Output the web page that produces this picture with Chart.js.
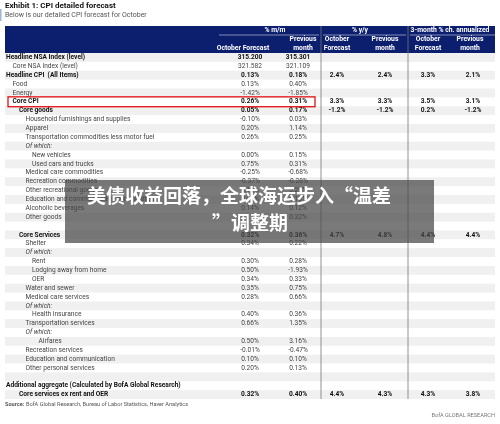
<!DOCTYPE html>
<html>
<head>
<meta charset="utf-8">
<script src="https://cdn.jsdelivr.net/npm/chart.js@4"></script>
<style>
  html, body { margin: 0; padding: 0; background: #fff; }
  #wrap { width: 500px; height: 424px; position: relative; }
</style>
</head>
<body>
<div id="wrap"><canvas id="cpi"></canvas></div>
<script>
// Table rows (top to bottom)
const rowLabels = [
  'Headline NSA Index (level)', 'Core NSA Index (level)', 'Headline CPI  (All Items)', 'Food', 'Energy',
  'Core CPI', 'Core goods', 'Household furnishings and supplies', 'Apparel', 'Transportation commodities less motor fuel',
  'Of which:', 'New vehicles', 'Used cars and trucks', 'Medical care commodities', 'Recreation commodities',
  'Other recreational goods', 'Education and communication commodities', 'Alcoholic beverages', 'Other goods', '',
  'Core Services', 'Shelter', 'Of which:', 'Rent', 'Lodging away from home',
  'OER', 'Water and sewer', 'Medical care services', 'Of which:', 'Health insurance',
  'Transportation services', 'Of which:', 'Airfares', 'Recreation services', 'Education and communication',
  'Other personal services', '', 'Additional aggregate (Calculated by BofA Global Research)', 'Core services ex rent and OER'
];
const rowIndent = [0,1,0,1,1, 1,2,3,3,3, 3,4,4,3,3, 3,3,3,3,0, 2,3,3,4,4, 4,3,3,3,4, 3,3,5,3,3, 3,0,0,2];
const rowBold =   [1,0,1,0,0, 1,1,0,0,0, 0,0,0,0,0, 0,0,0,0,0, 1,0,0,0,0, 0,0,0,0,0, 0,0,0,0,0, 0,0,1,1];
const mmOct  = ['315.200','321.582','0.13%','0.13%','-1.42%','0.26%','0.05%','-0.10%','0.20%','0.26%','','0.00%','0.75%','-0.25%','-0.37%','0.10%','0.05%','0.14%','0.17%','','0.32%','0.34%','','0.30%','0.50%','0.34%','0.35%','0.28%','','0.40%','0.66%','','0.50%','-0.01%','0.10%','0.20%','','','0.32%'];
const mmPrev = ['315.301','321.109','0.18%','0.40%','-1.85%','0.31%','0.17%','0.03%','1.14%','0.25%','','0.15%','0.31%','-0.68%','-0.28%','0.20%','0.10%','0.12%','0.32%','','0.36%','0.22%','','0.28%','-1.93%','0.33%','0.75%','0.66%','','0.36%','1.35%','','3.16%','-0.47%','0.10%','0.13%','','','0.40%'];
const yyOct  = {2:'2.4%', 5:'3.3%', 6:'-1.2%', 20:'4.7%', 38:'4.4%'};
const yyPrev = {2:'2.4%', 5:'3.3%', 6:'-1.2%', 20:'4.8%', 38:'4.3%'};
const m3Oct  = {2:'3.3%', 5:'3.5%', 6:'0.2%', 20:'4.4%', 38:'4.3%'};
const m3Prev = {2:'2.1%', 5:'3.1%', 6:'-1.2%', 20:'4.4%', 38:'3.8%'};

const NAVY = '#0b1f6e';
const FONT = 'Roboto';

function font(size, bold, italic) {
  return (italic ? 'italic ' : '') + (bold ? 'bold ' : '') + size + 'px ' + FONT;
}

const tablePlugin = {
  id: 'cpiTable',
  afterDraw(chart) {
    const c = chart.ctx;
    const y = chart.scales.y, x = chart.scales.x;
    const ca = chart.chartArea;
    const rowH = y.getPixelForValue(1) - y.getPixelForValue(0);
    const px = v => x.getPixelForValue(v);
    c.save();

    // title
    c.fillStyle = '#111'; c.textAlign = 'left'; c.textBaseline = 'middle';
    c.font = font(8, true); c.fillText('Exhibit 1: CPI detailed forecast', 5, 6);
    c.fillStyle = '#555'; c.font = font(7, false); c.fillText('Below is our detailed CPI forecast for October', 5, 15.5);
    c.fillStyle = '#9db5d8'; c.fillRect(0, 9, 1.5, 12);

    // row shading
    rowLabels.forEach((l, i) => {
      if (i % 2 === 0) {
        c.fillStyle = '#f0f0f0';
        c.fillRect(ca.left, y.getPixelForValue(i) - rowH / 2, ca.width, rowH);
      }
    });

    // header band
    c.fillStyle = NAVY;
    c.fillRect(ca.left, 26, ca.width, ca.top - 26);
    c.fillStyle = '#fff'; c.textAlign = 'center';
    c.font = font(6.8, true);
    c.fillText('% m/m', px(270), 30.5);
    c.fillText('% y/y', px(355), 30.5);
    c.fillText('3-month % ch. annualized', px(445), 30.5);
    c.fillText('October Forecast', px(238), 48.5);
    [[298, 'Previous', 'month'], [332, 'October', 'Forecast'], [380, 'Previous', 'month'],
     [423, 'October', 'Forecast'], [465, 'Previous', 'month']].forEach(([v, a, b]) => {
      c.fillText(a, px(v), 39.5); c.fillText(b, px(v), 48.5);
    });

    // rows
    rowLabels.forEach((l, i) => {
      const yy = y.getPixelForValue(i);
      const b = rowBold[i] === 1;
      const it = l === 'Of which:';
      c.fillStyle = b ? '#111' : '#444';
      c.font = font(6.6, b, it);
      c.textAlign = 'left';
      c.fillText(l, ca.left + 1 + rowIndent[i] * 6.5, yy);
      c.textAlign = 'center';
      c.fillText(mmOct[i], px(245), yy);
      c.fillText(mmPrev[i], px(293), yy);
      if (yyOct[i]) {
        c.fillText(yyOct[i], px(332), yy);
        c.fillText(yyPrev[i], px(380), yy);
        c.fillText(m3Oct[i], px(423), yy);
        c.fillText(m3Prev[i], px(468), yy);
      }
    });

    // column dividers
    c.strokeStyle = '#777'; c.lineWidth = 0.8;
    [316, 403].forEach(v => {
      c.beginPath(); c.moveTo(px(v), 26); c.lineTo(px(v), ca.bottom); c.stroke();
    });
    c.strokeStyle = '#fff'; c.lineWidth = 0.5;
    c.beginPath(); c.moveTo(px(214), 35); c.lineTo(px(314), 35); c.stroke();
    c.beginPath(); c.moveTo(px(318), 35); c.lineTo(px(401), 35); c.stroke();
    c.beginPath(); c.moveTo(px(405), 35); c.lineTo(px(490), 35); c.stroke();

    // Core CPI highlight
    const yc = y.getPixelForValue(5);
    c.strokeStyle = '#e01010'; c.lineWidth = 1.3;
    c.strokeRect(8, yc - rowH / 2 - 0.5, px(310) - 8, rowH + 1);

    // footer
    c.textAlign = 'left'; c.fillStyle = '#555';
    c.font = font(5.6, true); c.fillText('Source:', 5, 405);
    c.font = font(5.6, false); c.fillText('BofA Global Research, Bureau of Labor Statistics, Haver Analytics', 26, 405);
    c.textAlign = 'right'; c.fillStyle = '#777';
    c.fillText('BofA GLOBAL RESEARCH', 495, 416);

    // overlay caption
    c.fillStyle = 'rgba(70,70,70,0.72)';
    c.fillRect(65, 180, 369, 63);
    c.fillStyle = '#fff'; c.textAlign = 'center';
    c.font = 'bold 19px "Noto Sans CJK SC"';
    c.fillText('美债收益回落，全球海运步入“温差', 239, 196);
    c.fillText('”调整期', 250, 223);
    c.restore();
  }
};

new Chart(document.getElementById('cpi'), {
  type: 'line',
  data: { labels: rowLabels, datasets: [{ data: rowLabels.map(() => null), showLine: false }] },
  options: {
    indexAxis: 'y',
    responsive: true,
    maintainAspectRatio: false,
    animation: false,
    layout: { padding: { top: 53, bottom: 25, left: 5, right: 5 } },
    scales: {
      y: { type: 'category', offset: true, display: false },
      x: { type: 'linear', min: 0, max: 490, display: false }
    },
    plugins: { legend: { display: false }, tooltip: { enabled: false } }
  },
  plugins: [tablePlugin]
});
</script>
</body>
</html>
